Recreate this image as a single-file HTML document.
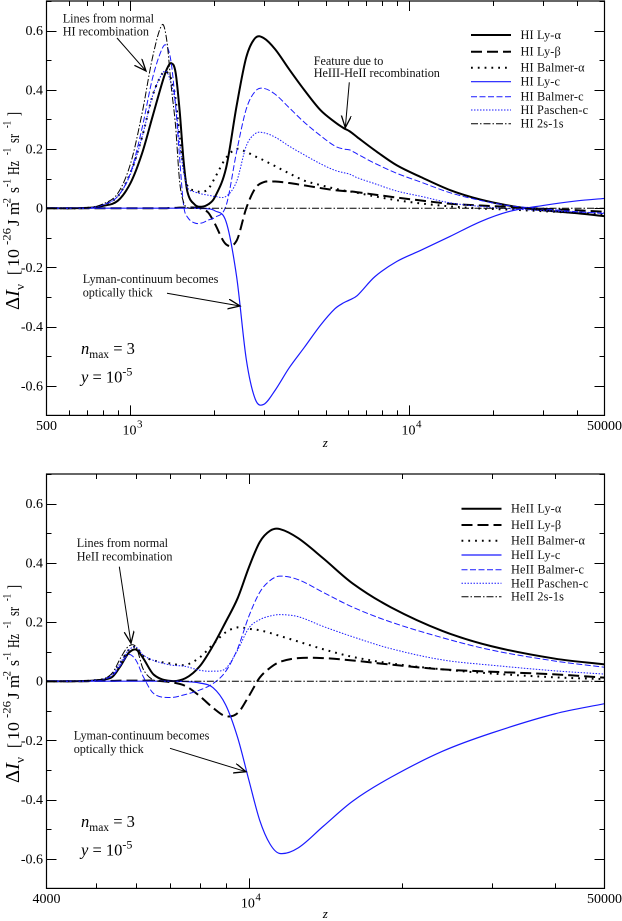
<!DOCTYPE html>
<html lang="en">
<head>
<meta charset="utf-8">
<title>HI and HeII recombination spectra</title>
<style>
html,body{margin:0;padding:0;background:#fff;width:622px;height:921px;overflow:hidden}
svg{display:block;font-family:"Liberation Serif",serif;fill:#000}
.ann{font-size:12.2px;fill:#111}
.tick{font-size:14px}
.leg{font-size:12.3px;fill:#111;letter-spacing:.15px}
</style>
</head>
<body>
<svg id="chart" xmlns="http://www.w3.org/2000/svg" width="622" height="921" viewBox="0 0 622 921">
  <defs>
    <marker id="arrowhead" markerUnits="userSpaceOnUse" markerWidth="14" markerHeight="12" refX="12" refY="5" orient="auto">
      <path d="M0 0 L12 5 L0 10" fill="none" stroke="#000" stroke-width="1.3"/>
    </marker>
  </defs>
  <g id="top-panel"></g>
  <g id="bottom-panel"></g>

  <g>
    <text class="ann" x="62.7" y="22.5">Lines from normal</text>
    <text class="ann" x="62.7" y="35.5">HI recombination</text>
    <line x1="117" y1="38" x2="146" y2="71" stroke="#000" stroke-width="1" marker-end="url(#arrowhead)"/>
  </g>
  <g>
    <text class="ann" x="313.7" y="65">Feature due to</text>
    <text class="ann" x="313.7" y="77">HeIII-HeII recombination</text>
    <line x1="349.3" y1="82.3" x2="345.3" y2="127.7" stroke="#000" stroke-width="1" marker-end="url(#arrowhead)"/>
  </g>
  <g>
    <text class="ann" x="82.7" y="283">Lyman-continuum becomes</text>
    <text class="ann" x="82.7" y="296.5">optically thick</text>
    <line x1="167" y1="293.3" x2="240" y2="306" stroke="#000" stroke-width="1" marker-end="url(#arrowhead)"/>
  </g>
  <g font-size="16.5">
    <text x="81" y="354"><tspan font-style="italic">n</tspan><tspan font-size="11.5" dy="4">max</tspan><tspan dy="-4"> = 3</tspan></text>
    <text x="81" y="382.5"><tspan font-style="italic">y</tspan> = 10<tspan font-size="12" dy="-7">-5</tspan></text>
  </g>

  <g>
    <text class="ann" x="76.7" y="547">Lines from normal</text>
    <text class="ann" x="76.7" y="560.5">HeII recombination</text>
    <line x1="119.3" y1="566.7" x2="131" y2="643.3" stroke="#000" stroke-width="1" marker-end="url(#arrowhead)"/>
  </g>
  <g>
    <text class="ann" x="73.7" y="739.5">Lyman-continuum becomes</text>
    <text class="ann" x="73.7" y="753">optically thick</text>
    <line x1="170" y1="748.3" x2="246" y2="771.7" stroke="#000" stroke-width="1" marker-end="url(#arrowhead)"/>
  </g>
  <g font-size="16.5">
    <text x="81" y="827"><tspan font-style="italic">n</tspan><tspan font-size="11.5" dy="4">max</tspan><tspan dy="-4"> = 3</tspan></text>
    <text x="81" y="855.5"><tspan font-style="italic">y</tspan> = 10<tspan font-size="12" dy="-7">-5</tspan></text>
  </g>

  <text x="325.3" y="447" font-size="13" font-style="italic" text-anchor="middle">z</text>
  <text x="325.3" y="918" font-size="13" font-style="italic" text-anchor="middle">z</text>

  <g transform="translate(19,310) rotate(-90)" font-size="17">
    <text x="0" y="0" font-size="20" textLength="20" lengthAdjust="spacingAndGlyphs">Δ<tspan font-style="italic">I</tspan></text>
    <text x="20" y="5" font-size="13" textLength="6" lengthAdjust="spacingAndGlyphs">ν</text>
    <text x="35" y="0" textLength="5" lengthAdjust="spacingAndGlyphs">[</text>
    <text x="43" y="0" textLength="18" lengthAdjust="spacingAndGlyphs">10</text>
    <text x="65" y="-8.5" font-size="12" textLength="17" lengthAdjust="spacingAndGlyphs">-26</text>
    <text x="84" y="0" textLength="24" lengthAdjust="spacingAndGlyphs">J m</text>
    <text x="103" y="-8.5" font-size="12" textLength="9" lengthAdjust="spacingAndGlyphs">-2</text>
    <text x="117" y="0" textLength="6" lengthAdjust="spacingAndGlyphs">s</text>
    <text x="123" y="-8.5" font-size="12" textLength="8" lengthAdjust="spacingAndGlyphs">-1</text>
    <text x="135" y="0" textLength="14" lengthAdjust="spacingAndGlyphs">Hz</text>
    <text x="155" y="-8.5" font-size="12" textLength="7" lengthAdjust="spacingAndGlyphs">-1</text>
    <text x="167" y="0" textLength="9" lengthAdjust="spacingAndGlyphs">sr</text>
    <text x="182" y="-8.5" font-size="12" textLength="7" lengthAdjust="spacingAndGlyphs">-1</text>
    <text x="194" y="0" textLength="4" lengthAdjust="spacingAndGlyphs">]</text>
  </g>
  <g transform="translate(19,783) rotate(-90)" font-size="17">
    <text x="0" y="0" font-size="20" textLength="20" lengthAdjust="spacingAndGlyphs">Δ<tspan font-style="italic">I</tspan></text>
    <text x="20" y="5" font-size="13" textLength="6" lengthAdjust="spacingAndGlyphs">ν</text>
    <text x="35" y="0" textLength="5" lengthAdjust="spacingAndGlyphs">[</text>
    <text x="43" y="0" textLength="18" lengthAdjust="spacingAndGlyphs">10</text>
    <text x="65" y="-8.5" font-size="12" textLength="17" lengthAdjust="spacingAndGlyphs">-26</text>
    <text x="84" y="0" textLength="24" lengthAdjust="spacingAndGlyphs">J m</text>
    <text x="103" y="-8.5" font-size="12" textLength="9" lengthAdjust="spacingAndGlyphs">-2</text>
    <text x="117" y="0" textLength="6" lengthAdjust="spacingAndGlyphs">s</text>
    <text x="123" y="-8.5" font-size="12" textLength="8" lengthAdjust="spacingAndGlyphs">-1</text>
    <text x="135" y="0" textLength="14" lengthAdjust="spacingAndGlyphs">Hz</text>
    <text x="155" y="-8.5" font-size="12" textLength="7" lengthAdjust="spacingAndGlyphs">-1</text>
    <text x="167" y="0" textLength="9" lengthAdjust="spacingAndGlyphs">sr</text>
    <text x="182" y="-8.5" font-size="12" textLength="7" lengthAdjust="spacingAndGlyphs">-1</text>
    <text x="194" y="0" textLength="4" lengthAdjust="spacingAndGlyphs">]</text>
  </g>
</svg>
<script>
/* ---------- top panel data (HI) ---------- */
const hiZ = [500,700,800,900,1000,1100,1200,1300,1350,1400,1450,1500,1550,1600,1700,1800,1900,2000,2200,2400,2600,2800,3000,3300,3700,4200,4800,5400,5800,6100,6500,7500,9000,11000,14000,18000,23000,30000,40000,50000];
const hiLyAlpha = [0,.001,.008,.025,.085,.185,.31,.425,.47,.49,.46,.33,.16,.055,.012,.005,.013,.035,.135,.345,.51,.575,.575,.537,.47,.399,.331,.291,.271,.26,.24,.196,.145,.105,.061,.029,.008,-.007,-.017,-.027];
const hiLyBeta = [0,0,0,0,0,0,0,0,0,.001,.001,.002,.002,.002,.002,-.002,-.015,-.05,-.122,-.11,0,.067,.088,.09,.085,.077,.068,.061,.058,.057,.054,.046,.036,.026,.015,.009,.004,-.002,-.007,-.012];
const hiBalmerAlpha = [0,.001,.012,.04,.12,.24,.38,.455,.46,.435,.37,.24,.135,.075,.06,.055,.065,.1,.17,.2,.19,.175,.162,.142,.118,.093,.078,.066,.06,.057,.052,.04,.027,.016,.006,-.001,-.005,-.01,-.016,-.02];
const hiLyC = [0,0,0,0,0,0,0,0,0,0,0,0,0,0,0,-.001,-.002,-.008,-.045,-.23,-.51,-.645,-.663,-.615,-.54,-.47,-.395,-.34,-.32,-.31,-.295,-.232,-.18,-.142,-.095,-.045,-.01,.009,.025,.033];
const hiBalmerC = [0,.001,.012,.04,.12,.27,.44,.54,.548,.49,.35,.17,.01,-.03,-.05,-.05,-.04,-.032,.008,.19,.335,.395,.405,.385,.34,.29,.245,.21,.2,.197,.183,.152,.118,.088,.052,.026,.008,-.002,-.012,-.018];
const hiPaschenC = [0,.001,.012,.04,.115,.24,.38,.455,.46,.42,.35,.22,.125,.07,.055,.048,.044,.04,.04,.09,.21,.252,.255,.24,.21,.18,.15,.128,.12,.115,.103,.083,.058,.04,.018,.006,-.002,-.008,-.013,-.016];
const hi2s1s = [0,.001,.015,.05,.15,.32,.51,.62,.565,.41,.28,.09,.02,.002,0,0,0,0,0,0,0,0,0,0,0,0,0,0,0,0,0,0,0,0,0,0,0,0,0,0];
const hiSeriesLabels = ["HI Ly-α","HI Ly-β","HI Balmer-α","HI Ly-c","HI Balmer-c","HI Paschen-c","HI 2s-1s"];

/* ---------- bottom panel data (HeII) ---------- */
const heZ = [4000,4500,4800,5000,5200,5400,5600,5800,6000,6200,6500,7000,7500,8000,8500,9000,9500,10000,10500,11000,11500,12500,14000,16000,19000,24000,30000,40000,50000];
const heLyAlpha = [0,0,.001,.003,.006,.016,.053,.095,.107,.077,.022,.001,.01,.05,.12,.2,.28,.385,.47,.508,.514,.483,.415,.33,.25,.17,.118,.076,.057];
const heLyBeta = [0,0,0,.001,.001,.001,.002,.002,.002,.002,.002,-.003,-.016,-.05,-.09,-.118,-.108,-.05,.012,.045,.065,.078,.078,.07,.056,.04,.032,.023,.012];
const heBalmerAlpha = [0,0,.001,.004,.008,.025,.065,.105,.115,.085,.07,.06,.055,.08,.125,.165,.182,.177,.172,.163,.153,.134,.108,.082,.06,.04,.026,.013,.007];
const heLyC = [0,0,0,0,0,0,0,0,0,0,0,0,-.001,-.006,-.022,-.08,-.19,-.335,-.47,-.55,-.582,-.563,-.49,-.405,-.325,-.237,-.175,-.11,-.076];
const heBalmerC = [0,0,.001,.003,.007,.02,.055,.09,.07,.015,-.042,-.055,-.045,-.03,-.008,.033,.11,.22,.3,.34,.355,.343,.3,.25,.2,.147,.105,.068,.047];
const hePaschenC = [0,0,.001,.004,.008,.025,.065,.105,.115,.088,.07,.055,.05,.037,.034,.043,.105,.18,.208,.22,.225,.218,.185,.15,.11,.072,.054,.035,.024];
const he2s1s = [0,0,.001,.004,.009,.03,.08,.118,.115,.04,.004,0,0,0,0,0,0,0,0,0,0,0,0,0,0,0,0,0,0];
const heSeriesLabels = ["HeII Ly-α","HeII Ly-β","HeII Balmer-α","HeII Ly-c","HeII Balmer-c","HeII Paschen-c","HeII 2s-1s"];

/* ---------- tick data ---------- */
const yMajorTicks = [-0.6,-0.4,-0.2,0,0.2,0.4,0.6];
const yMinorTicks = [-0.7,-0.5,-0.3,-0.1,0.1,0.3,0.5,0.7];
const yTickLabels = ["-0.6","-0.4","-0.2","0","0.2","0.4","0.6"];
const hiXMajor = [1000,10000];
const hiXMinor = [600,700,800,900,2000,3000,4000,5000,6000,7000,8000,9000,20000,30000,40000];
const heXMajor = [10000];
const heXMinor = [5000,6000,7000,8000,9000,20000,30000,40000];

const NS = "http://www.w3.org/2000/svg";
const seriesKeys = ["ly-alpha","ly-beta","balmer-alpha","ly-c","balmer-c","paschen-c","2s-1s"];
const seriesStyles = [
  {c:"#000",w:2,d:""},
  {c:"#000",w:2,d:"11 5"},
  {c:"#000",w:2,d:"1.8 5"},
  {c:"#1a1aff",w:1.2,d:""},
  {c:"#1a1aff",w:1,d:"6 2.5"},
  {c:"#1a1aff",w:1,d:"1.5 1.5"},
  {c:"#000",w:1,d:"7 2 1.5 2"}
];

function svgEl(parent, tag, attrs) {
  const el = document.createElementNS(NS, tag);
  for (const k in attrs) el.setAttribute(k, attrs[k]);
  parent.appendChild(el);
  return el;
}

function smoothPath(pts) {
  let d = "M" + pts[0][0].toFixed(2) + " " + pts[0][1].toFixed(2);
  for (let i = 0; i < pts.length - 1; i++) {
    const p0 = pts[Math.max(i - 1, 0)], p1 = pts[i], p2 = pts[i + 1], p3 = pts[Math.min(i + 2, pts.length - 1)];
    const h = p2[0] - p1[0];
    const m1 = (p2[1] - p0[1]) / (p2[0] - p0[0] || 1);
    const m2 = (p3[1] - p1[1]) / (p3[0] - p1[0] || 1);
    const c1x = p1[0] + h / 3, c1y = p1[1] + m1 * h / 3;
    const c2x = p2[0] - h / 3, c2y = p2[1] - m2 * h / 3;
    d += "C" + c1x.toFixed(2) + " " + c1y.toFixed(2) + " " + c2x.toFixed(2) + " " + c2y.toFixed(2) + " " + p2[0].toFixed(2) + " " + p2[1].toFixed(2);
  }
  return d;
}

function drawPanel(cfg) {
  const g = document.getElementById(cfg.id);
  const L = 46.5, R = 604.5, T = cfg.top, B = cfg.bottom;
  const xScale = z => L + (Math.log10(z) - Math.log10(cfg.xMin)) / (Math.log10(cfg.xMax) - Math.log10(cfg.xMin)) * (R - L);
  const yScale = v => T + (0.7 - v) / 1.4 * (B - T);

  const clipId = cfg.id + "-clip";
  const clip = svgEl(g, "clipPath", {id: clipId});
  svgEl(clip, "rect", {x: L, y: T, width: R - L, height: B - T});

  cfg.series.forEach(function (vals, i) {
    const pts = cfg.z.map((z, j) => [xScale(z), yScale(vals[j])]);
    const s = seriesStyles[i];
    const path = svgEl(g, "path", {d: smoothPath(pts), fill: "none", stroke: s.c, "stroke-width": s.w, "stroke-dasharray": s.d, "clip-path": "url(#" + clipId + ")"});
    
    
  });

  const frame = svgEl(g, "rect", {x: L, y: T, width: R - L, height: B - T, fill: "none", stroke: "#000", "stroke-width": 1.2});
  
  

  const tickGroup = svgEl(g, "g", {stroke: "#000", "stroke-width": 1});
  
  
  const xTick = (z, len) => {
    const x = Math.round(xScale(z)) + 0.5;
    svgEl(tickGroup, "line", {x1: x, x2: x, y1: B, y2: B - len});
    svgEl(tickGroup, "line", {x1: x, x2: x, y1: T, y2: T + len});
  };
  const yTick = (v, len) => {
    const y = Math.round(yScale(v)) + 0.5;
    svgEl(tickGroup, "line", {x1: L, x2: L + len, y1: y, y2: y});
    svgEl(tickGroup, "line", {x1: R, x2: R - len, y1: y, y2: y});
  };
  cfg.xMajor.forEach(z => xTick(z, 10));
  cfg.xMinor.forEach(z => xTick(z, 5));
  yMajorTicks.forEach(v => yTick(v, 10));
  yMinorTicks.forEach(v => yTick(v, 5));

  yMajorTicks.forEach(function (v, i) {
    const t = svgEl(g, "text", {x: 43, y: yScale(v) + 4.5, "text-anchor": "end", "class": "tick"});
    t.textContent = yTickLabels[i];
    
    
  });

  [cfg.xMin, cfg.xMax].forEach(function (z) {
    const t = svgEl(g, "text", {x: xScale(z), y: B + 14.5, "text-anchor": "middle", "class": "tick"});
    t.textContent = String(z);
    
    
  });
  cfg.xMajor.forEach(function (z) {
    const x = xScale(z);
    const t = svgEl(g, "text", {x: x - 8, y: B + 19, "class": "tick"});
    t.textContent = "10";
    
    
    const sup = svgEl(g, "text", {x: x + 6.5, y: B + 12, "font-size": 11});
    sup.textContent = String(Math.round(Math.log10(z)));
    
    
  });

  const legend = svgEl(g, "g", {});
  
  
  cfg.labels.forEach(function (label, i) {
    const y = cfg.legendY[i];
    const s = seriesStyles[i];
    const entry = svgEl(legend, "g", {});
    
    
    svgEl(entry, "line", {x1: cfg.legendX, x2: cfg.legendX + 40, y1: y, y2: y, stroke: s.c, "stroke-width": s.w, "stroke-dasharray": s.d});
    const t = svgEl(entry, "text", {x: cfg.legendX + 49.5, y: y + 4, "class": "leg"});
    t.textContent = label;
  });
}

drawPanel({
  id: "top-panel", prefix: "hi", top: 1, bottom: 415.4, xMin: 500, xMax: 50000,
  z: hiZ, series: [hiLyAlpha, hiLyBeta, hiBalmerAlpha, hiLyC, hiBalmerC, hiPaschenC, hi2s1s],
  labels: hiSeriesLabels, xMajor: hiXMajor, xMinor: hiXMinor,
  legendX: 471, legendY: [35, 51.7, 67.7, 81.7, 96.7, 110, 123.7]
});
drawPanel({
  id: "bottom-panel", prefix: "heii", top: 474, bottom: 888.4, xMin: 4000, xMax: 50000,
  z: heZ, series: [heLyAlpha, heLyBeta, heBalmerAlpha, heLyC, heBalmerC, hePaschenC, he2s1s],
  labels: heSeriesLabels, xMajor: heXMajor, xMinor: heXMinor,
  legendX: 461.5, legendY: [508.7, 525, 540.7, 555, 569.7, 583.3, 596.7]
});
</script>
</body>
</html>
